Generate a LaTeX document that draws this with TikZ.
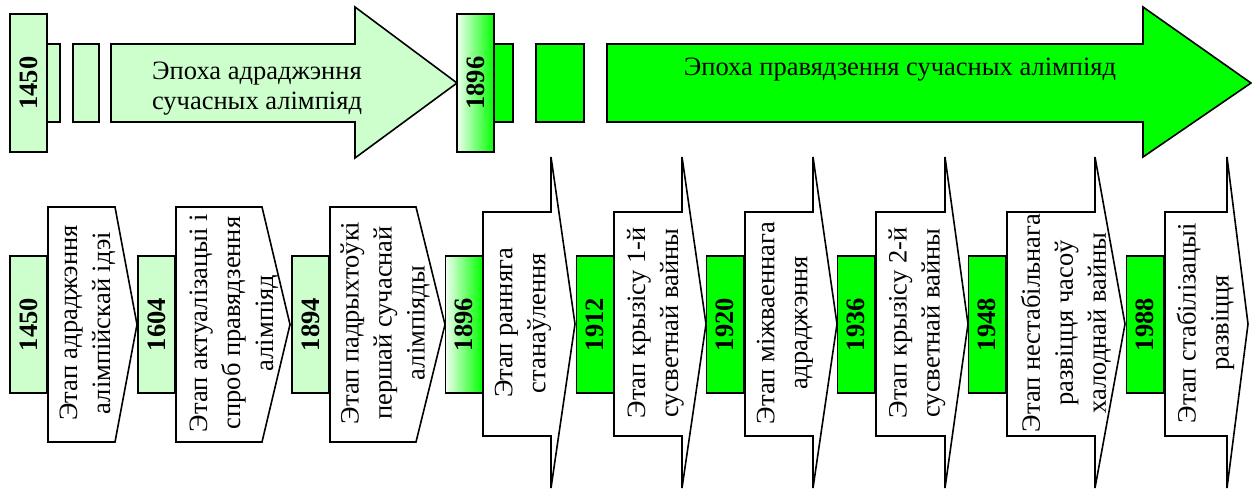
\documentclass[tikz,border=0pt]{standalone}
\usepackage{fontspec}
\setmainfont{Liberation Serif}
\definecolor{lgreen}{HTML}{CCFFCC}
\definecolor{bgreen}{HTML}{00FF00}
\begin{document}
\begin{tikzpicture}[x=1pt,y=-1pt, line width=1.6pt, line join=miter,
  shp/.style={draw=black},
  light/.style={shp, fill=lgreen},
  bright/.style={shp, fill=bgreen},
  white shape/.style={shp, fill=white},
  grad/.style={shp, left color=lgreen!30!white, right color=bgreen},
  yearbox/.style={draw=black, inner sep=0pt, minimum width=37, font=\fontsize{26.5}{30}\selectfont\bfseries},
  toptxt/.style={align=center, inner sep=0pt, font=\fontsize{26.5}{30}\selectfont},
  stagetxt/.style={rotate=90, align=center, inner sep=0pt, font=\fontsize{26.5}{33}\selectfont},
  ]
\useasboundingbox (0,0) rectangle (1252,490);

% ---------- top band ----------
\draw[light] (47,44) rectangle (60,122);
\draw[light] (73,44) rectangle (99,122);
\draw[light] (111,44) -- (355,44) -- (355,7) -- (457,83) -- (355,158) -- (355,122) -- (111,122) -- cycle;
\node[yearbox, fill=lgreen, minimum height=138] (t1450) at (28.5,83) {\rotatebox{90}{1450}};
\node[toptxt] (era1) at (257,89) {Эпоха адраджэння\\сучасных алімпіяд};

\draw[bright] (494,44) rectangle (513,122);
\draw[bright] (536,44) rectangle (584,122);
\draw[bright] (607,44) -- (1143,44) -- (1143,7) -- (1251,83) -- (1143,157) -- (1143,122) -- (607,122) -- cycle;
\node[yearbox, grad, minimum height=138] (t1896) at (475.5,83) {\rotatebox{90}{1896}};
\node[toptxt, anchor=base] (era2) at (900,75) {Эпоха правядзення сучасных алімпіяд};

% ---------- bottom band: stage shapes ----------
% pentagons
\draw[white shape] (48,207) -- (115,207) -- (137,324.5) -- (115,442) -- (48,442) -- cycle;
\draw[white shape] (176,207) -- (262,207) -- (290,324.5) -- (262,442) -- (176,442) -- cycle;
\draw[white shape] (330,207) -- (416,207) -- (445,324.5) -- (416,442) -- (330,442) -- cycle;
% arrows
\foreach \l/\r/\t in {483/551/575, 614/682/706, 745/813/837, 876/945/968, 1007/1095/1125, 1165/1227/1248}{
  \draw[white shape] (\l,212) -- (\r,212) -- (\r,157) -- (\t,324) -- (\r,488) -- (\r,436) -- (\l,436) -- cycle;
}

% year boxes
\node[yearbox, fill=lgreen, minimum height=137] (b1450) at (28.5,324.5) {\rotatebox{90}{1450}};
\node[yearbox, fill=lgreen, minimum height=137] (b1604) at (156.5,324.5) {\rotatebox{90}{1604}};
\node[yearbox, fill=lgreen, minimum height=137] (b1894) at (310.5,324.5) {\rotatebox{90}{1894}};
\node[yearbox, grad, minimum height=137] (b1896) at (464,324.5) {\rotatebox{90}{1896}};
\node[yearbox, fill=bgreen, minimum height=137] (b1912) at (595,324.5) {\rotatebox{90}{1912}};
\node[yearbox, fill=bgreen, minimum height=137] (b1920) at (725,324.5) {\rotatebox{90}{1920}};
\node[yearbox, fill=bgreen, minimum height=137] (b1936) at (856,324.5) {\rotatebox{90}{1936}};
\node[yearbox, fill=bgreen, minimum height=137] (b1948) at (987,324.5) {\rotatebox{90}{1948}};
\node[yearbox, fill=bgreen, minimum height=137] (b1988) at (1145,324.5) {\rotatebox{90}{1988}};

% stage texts
\node[stagetxt] (s1) at (87.5,323) {Этап адраджэння\\алімпійскай ідэі};
\node[stagetxt] (s2) at (234,323) {Этап актуалізацыі і\\спроб правядзення\\алімпіяд};
\node[stagetxt] (s3) at (385,323) {Этап падрыхтоўкі\\першай сучаснай\\алімпіяды};
\node[stagetxt] (s4) at (523,323) {Этап ранняга\\станаўлення};
\node[stagetxt] (s5) at (655.5,323) {Этап крызісу 1-й\\сусветнай вайны};
\node[stagetxt] (s6) at (785,323) {Этап міжваеннага\\адраджэння};
\node[stagetxt] (s7) at (917,323) {Этап крызісу 2-й\\сусветнай вайны};
\node[stagetxt] (s8) at (1066,323) {Этап нестабільнага\\развіцця часоў\\халоднай вайны};
\node[stagetxt] (s9) at (1205.5,323) {Этап стабілізацыі\\развіцця};
\end{tikzpicture}
\end{document}
